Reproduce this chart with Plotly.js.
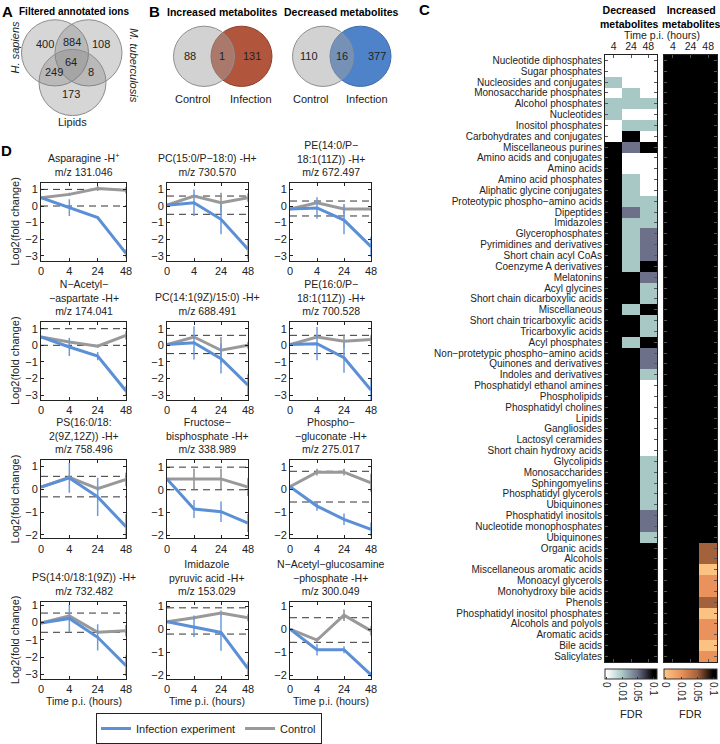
<!DOCTYPE html>
<html><head><meta charset="utf-8">
<script src="https://cdn.plot.ly/plotly-3.0.1.min.js"></script>
<style>html,body{margin:0;padding:0;background:#fff}#chart{width:720px;height:744px}</style>
</head><body><div id="chart"></div>
<script>
// ================= DATA =================
// Panel A: filtered annotated ions
const vennANames = ['H. sapiens', 'M. tuberculosis', 'Lipids'];
// order: Hs only, Hs∩Mtb, Mtb only, Hs∩Lip, all three, Mtb∩Lip, Lip only
const vennACounts = [400, 884, 108, 249, 64, 8, 173];

// Panel B
const vennBSets = ['Control', 'Infection'];
const increasedCounts = [88, 1, 131];   // control only, both, infection only
const decreasedCounts = [110, 16, 377];

// Panel C: FDR heatmaps
const heatCols = ['4', '24', '48'];
const heatRows = [
  'Nucleotide diphosphates','Sugar phosphates','Nucleosides and conjugates','Monosaccharide phosphates',
  'Alcohol phosphates','Nucleotides','Inositol phosphates','Carbohydrates and conjugates',
  'Miscellaneous purines','Amino acids and conjugates','Amino acids','Amino acid phosphates',
  'Aliphatic glycine conjugates','Proteotypic phospho\u2212amino acids','Dipeptides','Imidazoles',
  'Glycerophosphates','Pyrimidines and derivatives','Short chain acyl CoAs','Coenzyme A derivatives',
  'Melatonins','Acyl glycines','Short chain dicarboxylic acids','Miscellaneous',
  'Short chain tricarboxylic acids','Tricarboxylic acids','Acyl phosphates','Non\u2212protetypic phospho\u2212amino acids',
  'Quinones and derivatives','Indoles and derivatives','Phosphatidyl ethanol amines','Phospholipids',
  'Phosphatidyl cholines','Lipids','Gangliosides','Lactosyl ceramides',
  'Short chain hydroxy acids','Glycolipids','Monosaccharides','Sphingomyelins',
  'Phosphatidyl glycerols','Ubiquinones','Phosphatidyl inositols','Nucleotide monophosphates',
  'Ubiquinones','Organic acids','Alcohols','Miscellaneous aromatic acids',
  'Monoacyl glycerols','Monohydroxy bile acids','Phenols','Phosphatidyl inositol phosphates',
  'Alcohols and polyols','Aromatic acids','Bile acids','Salicylates'
];
const fdrDecreased = [
  [0,0,0],[0,0,0],[0.01,0,0],[0,0.01,0],
  [0.01,0.01,0.01],[0.01,0,0],[0,0.01,0.01],[0,0.1,0],
  [0.1,0.05,0.1],[0.1,0,0],[0.1,0,0],[0.1,0.01,0],
  [0.1,0.01,0],[0.1,0.01,0.01],[0.1,0.05,0.01],[0.1,0.01,0.01],
  [0.1,0.01,0.05],[0.1,0.01,0.05],[0.1,0.01,0.05],[0.1,0.01,0.1],
  [0.1,0.1,0.05],[0.1,0.1,0.01],[0.1,0.1,0.01],[0.1,0.01,0.1],
  [0.1,0.1,0.01],[0.1,0.1,0.01],[0.1,0.01,0.1],[0.1,0.1,0.05],
  [0.1,0.1,0.05],[0.1,0.1,0.01],[0.1,0.1,0],[0.1,0.1,0],
  [0.1,0.1,0],[0.1,0.1,0],[0.1,0.1,0],[0.1,0.1,0],
  [0.1,0.1,0],[0.1,0.1,0.01],[0.1,0.1,0.01],[0.1,0.1,0.01],
  [0.1,0.1,0.01],[0.1,0.1,0.01],[0.1,0.1,0.05],[0.1,0.1,0.05],
  [0.1,0.1,0.01],[0.1,0.1,0.1],[0.1,0.1,0.1],[0.1,0.1,0.1],
  [0.1,0.1,0.1],[0.1,0.1,0.1],[0.1,0.1,0.1],[0.1,0.1,0.1],
  [0.1,0.1,0.1],[0.1,0.1,0.1],[0.1,0.1,0.1],[0.1,0.1,0.1]
];
const fdrIncreased = [
  [0.1,0.1,0.1],[0.1,0.1,0.1],[0.1,0.1,0.1],[0.1,0.1,0.1],
  [0.1,0.1,0.1],[0.1,0.1,0.1],[0.1,0.1,0.1],[0.1,0.1,0.1],
  [0.1,0.1,0.1],[0.1,0.1,0.1],[0.1,0.1,0.1],[0.1,0.1,0.1],
  [0.1,0.1,0.1],[0.1,0.1,0.1],[0.1,0.1,0.1],[0.1,0.1,0.1],
  [0.1,0.1,0.1],[0.1,0.1,0.1],[0.1,0.1,0.1],[0.1,0.1,0.1],
  [0.1,0.1,0.1],[0.1,0.1,0.1],[0.1,0.1,0.1],[0.1,0.1,0.1],
  [0.1,0.1,0.1],[0.1,0.1,0.1],[0.1,0.1,0.1],[0.1,0.1,0.1],
  [0.1,0.1,0.1],[0.1,0.1,0.1],[0.1,0.1,0.1],[0.1,0.1,0.1],
  [0.1,0.1,0.1],[0.1,0.1,0.1],[0.1,0.1,0.1],[0.1,0.1,0.1],
  [0.1,0.1,0.1],[0.1,0.1,0.1],[0.1,0.1,0.1],[0.1,0.1,0.1],
  [0.1,0.1,0.1],[0.1,0.1,0.1],[0.1,0.1,0.1],[0.1,0.1,0.1],
  [0.1,0.1,0.1],[0.1,0.1,0.05],[0.1,0.1,0.05],[0.1,0.1,0],
  [0.1,0.1,0.01],[0.1,0.1,0.01],[0.1,0.1,0.05],[0.1,0.1,0],
  [0.1,0.1,0.01],[0.1,0.1,0.01],[0.1,0.1,0],[0.1,0.1,0.01]
];
const fdrTicks = [0, 0.01, 0.05, 0.1];
const fdrTickText = ['0', '0.01', '0.05', '0.1'];

// Panel D: time courses
const timeLabels = ['0', '4', '24', '48'];
const metaboliteTitles = [
  'Asparagine -H<sup>+</sup><br>m/z 131.046',
  'PC(15:0/P\u221218:0) -H+<br>m/z 730.570',
  'PE(14:0/P\u2212<br>18:1(11Z)) -H+<br>m/z 672.497',
  'N\u2212Acetyl\u2212<br>\u2212aspartate -H+<br>m/z 174.041',
  'PC(14:1(9Z)/15:0) -H+<br>m/z 688.491',
  'PE(16:0/P\u2212<br>18:1(11Z)) -H+<br>m/z 700.528',
  'PS(16:0/18:<br>2(9Z,12Z)) -H+<br>m/z 758.496',
  'Fructose\u2212<br>bisphosphate -H+<br>m/z 338.989',
  'Phospho\u2212<br>\u2212gluconate -H+<br>m/z 275.017',
  'PS(14:0/18:1(9Z)) -H+<br>m/z 732.482',
  'Imidazole<br>pyruvic acid -H+<br>m/z 153.029',
  'N\u2212Acetyl\u2212glucosamine<br>\u2212phosphate -H+<br>m/z 300.049'
];
const infectionMean = [
  [0.5, -0.1, -0.7, -2.85],
  [0.05, 0.2, -0.8, -2.6],
  [-0.18, -0.12, -0.85, -2.45],
  [0.5, -0.1, -0.65, -2.75],
  [0.05, 0.15, -0.8, -2.4],
  [0.05, 0.1, -0.75, -2.7],
  [0.1, 0.5, -0.33, -1.64],
  [0.48, -0.85, -0.97, -1.47],
  [0.12, -0.73, -1.31, -1.75],
  [-0.04, 0.23, -0.86, -2.5],
  [0.33, 0.11, -0.14, -1.71],
  [0.0, -0.89, -0.89, -1.98]
];
const infectionErr = [
  [0, 0.5, 0.1, 0.25],
  [0, 0.8, 0.9, 0.6],
  [0, 0.65, 0.85, 0.6],
  [0, 0.55, 0.25, 0.3],
  [0, 1.0, 0.9, 0.65],
  [0, 1.0, 0.9, 0.7],
  [0, 0.65, 0.84, 0.55],
  [0, 0.4, 0.45, 0.4],
  [0, 0.2, 0.25, 0.3],
  [0, 0.8, 0.76, 0.6],
  [0, 0.45, 0.8, 0.3],
  [0, 0.25, 0.15, 0.1]
];
const controlMean = [
  [0.5, 0.7, 1.05, 0.95],
  [0.05, 0.6, 0.2, 0.5],
  [-0.18, 0.2, -0.18, -0.18],
  [0.5, 0.2, -0.05, 0.6],
  [0.05, 0.5, -0.3, 0.0],
  [0.05, 0.5, 0.25, 0.35],
  [0.1, 0.53, 0.03, 0.43],
  [0.48, 0.48, 0.48, 0.12],
  [0.12, 0.76, 0.76, 0.29],
  [-0.04, 0.38, -0.57, -0.48],
  [0.33, 0.5, 0.71, 0.5],
  [0.0, -0.47, 0.61, -0.07]
];
const controlErr = [
  [0, 0.1, 0.15, 0.2],
  [0, 0.1, 0.6, 0.25],
  [0, 0.1, 0.3, 0.1],
  [0, 0.05, 0.1, 0.25],
  [0, 0.1, 0.8, 0.2],
  [0, 0.1, 0.4, 0.25],
  [0, 0.1, 0.1, 0.3],
  [0, 0.45, 0.45, 0.4],
  [0, 0.15, 0.15, 0.4],
  [0, 0.1, 0.1, 0.33],
  [0, 0.1, 0.1, 0.15],
  [0, 0.1, 0.25, 0.2]
];
const thresholdHigh = [1.0, 0.6, 0.3, 1.0, 0.6, 0.6, 0.57, 1.0, 0.8, 0.54, 0.93, 0.5];
const thresholdLow  = [0.0, -0.5, -0.6, 0.0, -0.5, -0.5, -0.33, 0.0, -0.55, -0.57, -0.21, -0.57];

// ================= LAYOUT / STYLE =================
const FONT = 'Liberation Sans, Arial, Helvetica, sans-serif';
const TXT = '#222';
const W = 720, H = 744;
const px = v => v / W;
const py = v => 1 - v / H;

const BLUE = '#5b8fd6', GRAY = '#999999';
const yRanges = [[-3.3,1.4],[-3.3,1.4],[-3.3,1.4],[-3.3,1.4],[-3.3,1.4],[-3.3,1.4],
                 [-2.15,1.27],[-2.15,1.3],[-2.15,1.28],[-3.25,1.2],[-2.15,1.2],[-2.15,1.2]];
const ticksBig = [-3,-2,-1,0,1], ticksSmall = [-2,-1,0,1];
const yTickSets = [ticksBig,ticksBig,ticksBig,ticksBig,ticksBig,ticksBig,
                   ticksSmall,ticksSmall,ticksSmall,ticksBig,ticksSmall,ticksSmall];
const colX = [[41,126],[167,248],[290,371]];
const rowY = [[185,264],[326,405],[466,545],[609,687]];

const traces = [];
const annotations = [];
const shapes = [];
function ann(text, x, y, o) {
  annotations.push(Object.assign({text, xref:'paper', yref:'paper', x:px(x), y:py(y),
    xanchor:'center', yanchor:'middle', showarrow:false, font:{size:11, color:TXT, family:FONT}}, o || {}));
}
function circle(cx, cy, r, fill, line) {
  shapes.push({type:'circle', xref:'paper', yref:'paper', x0:px(cx-r), x1:px(cx+r), y0:py(cy+r), y1:py(cy-r),
    fillcolor:fill, line:{color:line, width:1}, layer:'above'});
}
const boldFont = s => ({size:s, color:'#000', family:FONT});

// ---- Panel labels
ann('<b>A</b>', 7, 12, {font:boldFont(15)});
ann('<b>B</b>', 154, 12, {font:boldFont(15)});
ann('<b>C</b>', 424, 10, {font:boldFont(15)});
ann('<b>D</b>', 6, 152, {font:boldFont(15)});

// ---- Panel A
ann('<b>Filtered annotated ions</b>', 74, 12, {font:boldFont(10)});
const rA = 33.5;
circle(55, 53.5, rA, 'rgba(120,120,120,0.3)', '#8c8c8c');
circle(88.5, 53.5, rA, 'rgba(120,120,120,0.3)', '#8c8c8c');
circle(72.5, 83.5, rA, 'rgba(120,120,120,0.3)', '#8c8c8c');
const vennAPos = [[45,45],[72,43],[101,45],[54,73],[71,63],[91,73],[71,95]];
vennACounts.forEach((v, k) => ann(String(v), vennAPos[k][0], vennAPos[k][1]));
ann('<i>' + vennANames[0] + '</i>', 15, 48, {textangle:-90});
ann('<i>' + vennANames[1] + '</i>', 134, 66, {textangle:90});
ann(vennANames[2], 72, 123);

// ---- Panel B
ann('<b>Increased metabolites</b>', 222, 12, {font:boldFont(10.5)});
ann('<b>Decreased metabolites</b>', 341, 12, {font:boldFont(10.5)});
const rB = 30.5;
circle(241.5, 57, rB, '#b2553d', '#8d3e2b');
circle(204, 57, rB, 'rgba(160,160,160,0.48)', '#8f8f8f');
circle(360.5, 57, rB, '#4f83c9', '#3d6aa6');
circle(323, 57, rB, 'rgba(160,160,160,0.48)', '#8f8f8f');
[[190,57],[222,57],[252,57]].forEach((p, k) => ann(String(increasedCounts[k]), p[0], p[1]));
[[309,57],[342,57],[377,57]].forEach((p, k) => ann(String(decreasedCounts[k]), p[0], p[1]));
ann(vennBSets[0], 192, 100); ann(vennBSets[1], 251, 100);
ann(vennBSets[0], 310, 100); ann(vennBSets[1], 367, 100);

// ---- Panel D
const layoutAxes = {};
metaboliteTitles.forEach((title, i) => {
  const r = Math.floor(i / 3), c = i % 3, n = i + 1;
  const sfx = n === 1 ? '' : String(n);
  const xa = 'x' + sfx, ya = 'y' + sfx;
  layoutAxes['xaxis' + sfx] = {
    domain:[px(colX[c][0]), px(colX[c][1])], anchor:ya, type:'category', range:[0,3],
    showline:true, mirror:'ticks', linecolor:'#222', linewidth:1, ticks:'inside', ticklen:3,
    tickcolor:'#222', tickfont:{size:11, color:TXT}, showgrid:false, zeroline:false, fixedrange:true
  };
  layoutAxes['yaxis' + sfx] = {
    domain:[py(rowY[r][1]), py(rowY[r][0])], anchor:xa, range:yRanges[i], tickvals:yTickSets[i],
    showline:true, mirror:'ticks', linecolor:'#222', linewidth:1, ticks:'inside', ticklen:3,
    tickcolor:'#222', tickfont:{size:11, color:TXT}, showgrid:false, zeroline:false, fixedrange:true
  };
  [thresholdHigh[i], thresholdLow[i]].forEach(v => shapes.push({
    type:'line', xref:xa + ' domain', yref:ya, x0:0, x1:1, y0:v, y1:v,
    line:{color:'#333', width:1, dash:'7px,5px'}, layer:'below'}));
  traces.push({type:'scatter', mode:'lines', x:timeLabels, y:controlMean[i], xaxis:xa, yaxis:ya,
    line:{color:GRAY, width:3}, error_y:{type:'data', array:controlErr[i], visible:true, color:'#8e8e8e', thickness:1.5, width:0},
    name:'Control', legendgroup:'ctl', showlegend:i === 0, legendrank:2, hoverinfo:'skip'});
  traces.push({type:'scatter', mode:'lines', x:timeLabels, y:infectionMean[i], xaxis:xa, yaxis:ya,
    line:{color:BLUE, width:3}, error_y:{type:'data', array:infectionErr[i], visible:true, color:'#6a9bdc', thickness:1.5, width:0},
    name:'Infection experiment', legendgroup:'inf', showlegend:i === 0, legendrank:1, hoverinfo:'skip'});
  ann(title, (colX[c][0] + colX[c][1]) / 2, rowY[r][0] - 3, {yanchor:'bottom', font:{size:10.5, color:TXT, family:FONT}});
  if (c === 0) ann('Log2(fold change)', 15, (rowY[r][0] + rowY[r][1]) / 2, {textangle:-90});
  if (r === 3) ann('Time p.i. (hours)', (colX[c][0] + colX[c][1]) / 2, 710, {font:{size:10.5, color:TXT, family:FONT}});
});

// ---- Panel C
const levelOf = v => fdrTicks.indexOf(v);
const rowIdx = heatRows.map((_, k) => k);
const zLo = -0.1, zHi = 3.25;                       // small inset so end tick labels sit inside the bar
const fr = l => (l - zLo) / (zHi - zLo);
const mkScale = cols => [[0, cols[0]], [fr(0), cols[0]], [fr(1), cols[1]], [fr(2), cols[2]], [fr(3), cols[3]], [1, cols[3]]];
const decScale = mkScale(['#ffffff', '#a8c8c6', '#6c7088', '#000000']);
const incScale = mkScale(['#fcc282', '#e9925c', '#a4623c', '#000000']);
const hmTop = 55.7, hmBot = 670;
function cbar(cx, w) {
  return {orientation:'h', x:px(cx), xanchor:'center', y:py(677), yanchor:'top', len:w, lenmode:'pixels',
    thickness:10, thicknessmode:'pixels', xpad:0, ypad:0, outlinewidth:1, outlinecolor:'#333',
    tickvals:[0,1,2,3], ticktext:fdrTickText, tickangle:90, ticks:'inside', ticklen:2, tickcolor:'#333',
    tickfont:{size:10, color:TXT, family:FONT}};
}
traces.push({type:'heatmap', x:heatCols, y:rowIdx, z:fdrDecreased.map(row => row.map(levelOf)),
  zmin:zLo, zmax:zHi, colorscale:decScale, xaxis:'x13', yaxis:'y13', hoverinfo:'skip', colorbar:cbar(631, 52)});
traces.push({type:'heatmap', x:heatCols, y:rowIdx, z:fdrIncreased.map(row => row.map(levelOf)),
  zmin:zLo, zmax:zHi, colorscale:incScale, xaxis:'x14', yaxis:'y14', hoverinfo:'skip', colorbar:cbar(690.5, 53)});
const hx = (a, b, ya) => ({domain:[px(a), px(b)], anchor:ya, side:'top', type:'category',
  showline:true, mirror:'ticks', linecolor:'#222', linewidth:1, ticks:'inside', ticklen:3, tickcolor:'#555',
  tickfont:{size:10.5, color:TXT}, showgrid:false, zeroline:false, fixedrange:true});
const hy = (xa, labels) => ({domain:[py(hmBot), py(hmTop)], anchor:xa, range:[heatRows.length - 0.5, -0.5],
  tickvals:rowIdx, ticktext:heatRows, showticklabels:labels, showline:true, mirror:'ticks', linecolor:'#222',
  linewidth:1, ticks:'inside', ticklen:3, tickcolor:'#555', tickfont:{size:10, color:TXT},
  showgrid:false, zeroline:false, fixedrange:true});
layoutAxes.xaxis13 = hx(605, 657, 'y13');
layoutAxes.yaxis13 = hy('x13', true);
layoutAxes.xaxis14 = hx(664, 717, 'y14');
layoutAxes.yaxis14 = hy('x14', false);
ann('<b>Decreased<br>metabolites</b>', 629, 17, {font:boldFont(10.5)});
ann('<b>Increased<br>metabolites</b>', 691, 17, {font:boldFont(10.5)});
ann('Time p.i. (hours)', 662, 35, {font:{size:10.5, color:TXT, family:FONT}});
ann('FDR', 631, 723);
ann('FDR', 690, 723);

const layout = Object.assign({
  width:W, height:H, margin:{l:0, r:0, t:0, b:0},
  paper_bgcolor:'#ffffff', plot_bgcolor:'rgba(0,0,0,0)',
  font:{family:FONT, size:11, color:TXT},
  showlegend:true,
  legend:{orientation:'h', x:px(96), xanchor:'left', y:py(722), yanchor:'top', bordercolor:'#222', borderwidth:1,
    bgcolor:'#ffffff', font:{size:11, color:TXT}, itemwidth:30, tracegroupgap:0},
  annotations, shapes
}, layoutAxes);

Plotly.newPlot('chart', traces, layout, {staticPlot:true, displayModeBar:false});
</script>
</body></html>
